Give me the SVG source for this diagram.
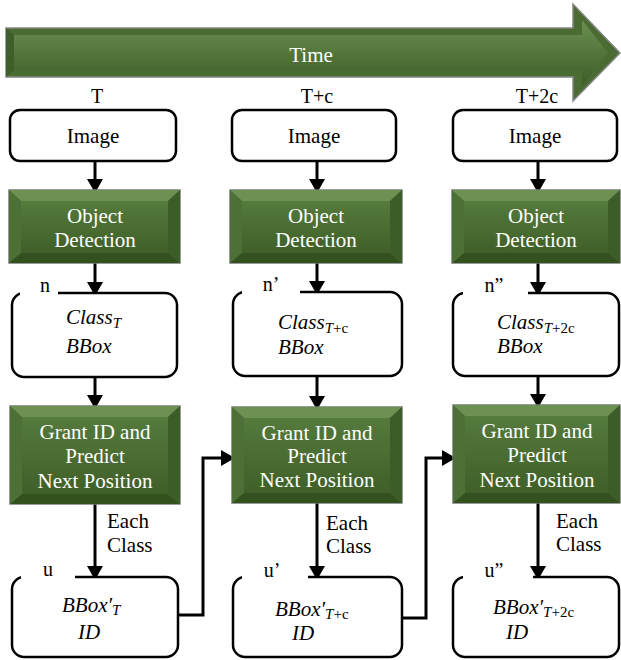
<svg xmlns="http://www.w3.org/2000/svg" width="621" height="660" viewBox="0 0 621 660" font-family="'Liberation Serif', 'DejaVu Serif', serif">
<defs>
<style>
.box{fill:#fff;stroke:#000;stroke-width:2.5}
.t{font-family:'Liberation Serif','DejaVu Serif',serif;font-size:21px;fill:#000}
.w{font-family:'Liberation Serif','DejaVu Serif',serif;font-size:21px;fill:#fff;text-anchor:middle}
.c{text-anchor:middle}
.m{font-family:'Liberation Serif','DejaVu Serif',serif;font-size:21px;font-style:italic;fill:#000}
.s{font-size:15px}
.u{font-style:normal}
.lbl{font-family:'Liberation Serif','DejaVu Serif',serif;font-size:20px;fill:#000}
.gap{fill:#fff}
.con{fill:none;stroke:#000;stroke-width:3;marker-end:url(#ah)}
.gout{fill:#56793d;stroke:#7a7a7a;stroke-width:1.5}
.gin{fill:url(#gg)}
.bt{fill:#6c9152}
.bl{fill:#4d7036}
.br{fill:#3d5d28}
.bb{fill:#33501f}
</style>
<linearGradient id="gg" x1="0" y1="0" x2="0" y2="1">
<stop offset="0" stop-color="#557a3c"/>
<stop offset="1" stop-color="#3f6029"/>
</linearGradient>
<linearGradient id="ag" x1="0" y1="0" x2="0" y2="1">
<stop offset="0" stop-color="#6a9050"/>
<stop offset="0.45" stop-color="#56793e"/>
<stop offset="1" stop-color="#3c5c27"/>
</linearGradient>
<marker id="ah" viewBox="0 0 14 16" refX="11" refY="8" markerWidth="14" markerHeight="16" markerUnits="userSpaceOnUse" orient="auto">
<path d="M0,0 L14,8 L0,16 Z" fill="#000"/>
</marker>
</defs>

<g id="time-arrow">
<path d="M6,28 L573,28 L573,4 L620,53 L573,101 L573,77 L6,77 Z" fill="#4a6c33" stroke="#858585" stroke-width="1.5"/>
<path d="M14,35 L582,35 L582,20 L608,53 L582,86 L582,70 L14,70 Z" fill="url(#ag)"/>
<path d="M6,28 L14,35 L14,70 L6,77 Z" fill="#3f5f2a"/>
<text class="w" x="311" y="62">Time</text>
</g>

<g id="time-labels">
<text class="lbl c" x="97" y="103">T</text>
<text class="lbl c" x="317" y="103">T+c</text>
<text class="lbl c" x="537" y="103">T+2c</text>
</g>

<g id="connectors">
<line class="con" x1="95" y1="161" x2="95" y2="190"/>
<line class="con" x1="95" y1="263" x2="95" y2="293"/>
<line class="con" x1="95" y1="377" x2="95" y2="406"/>
<line class="con" x1="95" y1="504" x2="95" y2="577"/>
<line class="con" x1="317" y1="161" x2="317" y2="190"/>
<line class="con" x1="317" y1="263" x2="317" y2="292"/>
<line class="con" x1="317" y1="376" x2="317" y2="407"/>
<line class="con" x1="317" y1="503" x2="317" y2="577"/>
<line class="con" x1="538" y1="161" x2="538" y2="190"/>
<line class="con" x1="538" y1="263" x2="538" y2="293"/>
<line class="con" x1="538" y1="376" x2="538" y2="405"/>
<line class="con" x1="538" y1="503" x2="538" y2="577"/>
<polyline class="con" points="178,615 203,615 203,458 232,458"/>
<polyline class="con" points="402,618 426,618 426,458 453,458"/>
<text class="t" x="107" y="528">Each</text>
<text class="t" x="107" y="552">Class</text>
<text class="t" x="326" y="530">Each</text>
<text class="t" x="326" y="553">Class</text>
<text class="t" x="556" y="528">Each</text>
<text class="t" x="556" y="551">Class</text>
</g>

<!-- Column T -->
<g id="image-1">
<rect class="box" x="10" y="110" width="166" height="51" rx="10"/>
<text class="t c" x="93" y="143">Image</text>
</g>
<g id="detect-1">
<rect class="gout" x="9" y="190" width="171" height="73"/>
<polygon class="bt" points="9,190 180,190 168,201 21,201"/>
<polygon class="bl" points="9,190 21,201 21,253 9,263"/>
<polygon class="br" points="180,190 168,201 168,253 180,263"/>
<polygon class="bb" points="9,263 21,253 168,253 180,263"/>
<rect class="gin" x="21" y="201" width="147" height="52"/>
<text class="w" x="95" y="223">Object</text>
<text class="w" x="95" y="247">Detection</text>
</g>
<g id="class-1">
<rect class="box" x="12" y="293" width="165" height="84" rx="12"/>
<rect class="gap" x="20" y="287" width="38" height="10"/>
<text class="lbl c" x="45" y="292">n</text>
<text class="m" x="66" y="324">Class<tspan class="s" dy="4">T</tspan></text>
<text class="m" x="66" y="353">BBox</text>
</g>
<g id="grant-1">
<rect class="gout" x="10" y="406" width="170" height="98"/>
<polygon class="bt" points="10,406 180,406 168,417 22,417"/>
<polygon class="bl" points="10,406 22,417 22,494 10,504"/>
<polygon class="br" points="180,406 168,417 168,494 180,504"/>
<polygon class="bb" points="10,504 22,494 168,494 180,504"/>
<rect class="gin" x="22" y="417" width="146" height="77"/>
<text class="w" x="95" y="439">Grant ID and</text>
<text class="w" x="95" y="463">Predict</text>
<text class="w" x="95" y="488">Next Position</text>
</g>
<g id="bbox-1">
<rect class="box" x="12" y="577" width="166" height="80" rx="12"/>
<rect class="gap" x="21" y="571" width="54" height="10"/>
<text class="lbl c" x="48" y="576">u</text>
<text class="m" x="62" y="612">BBox′<tspan class="s" dy="3">T</tspan></text>
<text class="m" x="78" y="639">ID</text>
</g>

<!-- Column T+c -->
<g id="image-2">
<rect class="box" x="232" y="110" width="164" height="51" rx="10"/>
<text class="t c" x="314" y="143">Image</text>
</g>
<g id="detect-2">
<rect class="gout" x="230" y="190" width="172" height="73"/>
<polygon class="bt" points="230,190 402,190 390,201 242,201"/>
<polygon class="bl" points="230,190 242,201 242,253 230,263"/>
<polygon class="br" points="402,190 390,201 390,253 402,263"/>
<polygon class="bb" points="230,263 242,253 390,253 402,263"/>
<rect class="gin" x="242" y="201" width="148" height="52"/>
<text class="w" x="316" y="223">Object</text>
<text class="w" x="316" y="247">Detection</text>
</g>
<g id="class-2">
<rect class="box" x="233" y="292" width="169" height="84" rx="12"/>
<rect class="gap" x="242" y="286" width="58" height="10"/>
<text class="lbl c" x="271" y="291">n’</text>
<text class="m" x="278" y="329">Class<tspan class="s" dy="4">T</tspan><tspan class="s u">+c</tspan></text>
<text class="m" x="278" y="354">BBox</text>
</g>
<g id="grant-2">
<rect class="gout" x="232" y="407" width="170" height="96"/>
<polygon class="bt" points="232,407 402,407 390,418 244,418"/>
<polygon class="bl" points="232,407 244,418 244,493 232,503"/>
<polygon class="br" points="402,407 390,418 390,493 402,503"/>
<polygon class="bb" points="232,503 244,493 390,493 402,503"/>
<rect class="gin" x="244" y="418" width="146" height="75"/>
<text class="w" x="317" y="440">Grant ID and</text>
<text class="w" x="317" y="463">Predict</text>
<text class="w" x="317" y="487">Next Position</text>
</g>
<g id="bbox-2">
<rect class="box" x="233" y="577" width="169" height="80" rx="12"/>
<rect class="gap" x="242" y="571" width="66" height="10"/>
<text class="lbl c" x="272" y="577">u’</text>
<text class="m" x="275" y="616">BBox′<tspan class="s" dy="3">T</tspan><tspan class="s u">+c</tspan></text>
<text class="m" x="292" y="640">ID</text>
</g>

<!-- Column T+2c -->
<g id="image-3">
<rect class="box" x="453" y="110" width="164" height="51" rx="10"/>
<text class="t c" x="535" y="143">Image</text>
</g>
<g id="detect-3">
<rect class="gout" x="452" y="190" width="168" height="73"/>
<polygon class="bt" points="452,190 620,190 608,201 464,201"/>
<polygon class="bl" points="452,190 464,201 464,253 452,263"/>
<polygon class="br" points="620,190 608,201 608,253 620,263"/>
<polygon class="bb" points="452,263 464,253 608,253 620,263"/>
<rect class="gin" x="464" y="201" width="144" height="52"/>
<text class="w" x="536" y="223">Object</text>
<text class="w" x="536" y="247">Detection</text>
</g>
<g id="class-3">
<rect class="box" x="453" y="293" width="166" height="83" rx="12"/>
<rect class="gap" x="463" y="287" width="65" height="10"/>
<text class="lbl c" x="494" y="292">n”</text>
<text class="m" x="497" y="329">Class<tspan class="s" dy="4">T</tspan><tspan class="s u">+2c</tspan></text>
<text class="m" x="497" y="353">BBox</text>
</g>
<g id="grant-3">
<rect class="gout" x="453" y="405" width="167" height="98"/>
<polygon class="bt" points="453,405 620,405 608,416 465,416"/>
<polygon class="bl" points="453,405 465,416 465,493 453,503"/>
<polygon class="br" points="620,405 608,416 608,493 620,503"/>
<polygon class="bb" points="453,503 465,493 608,493 620,503"/>
<rect class="gin" x="465" y="416" width="143" height="77"/>
<text class="w" x="537" y="438">Grant ID and</text>
<text class="w" x="537" y="462">Predict</text>
<text class="w" x="537" y="487">Next Position</text>
</g>
<g id="bbox-3">
<rect class="box" x="453" y="577" width="166" height="80" rx="12"/>
<rect class="gap" x="463" y="571" width="70" height="10"/>
<text class="lbl c" x="494" y="577">u”</text>
<text class="m" x="493" y="614">BBox′<tspan class="s" dy="3">T</tspan><tspan class="s u">+2c</tspan></text>
<text class="m" x="506" y="639">ID</text>
</g>
</svg>
